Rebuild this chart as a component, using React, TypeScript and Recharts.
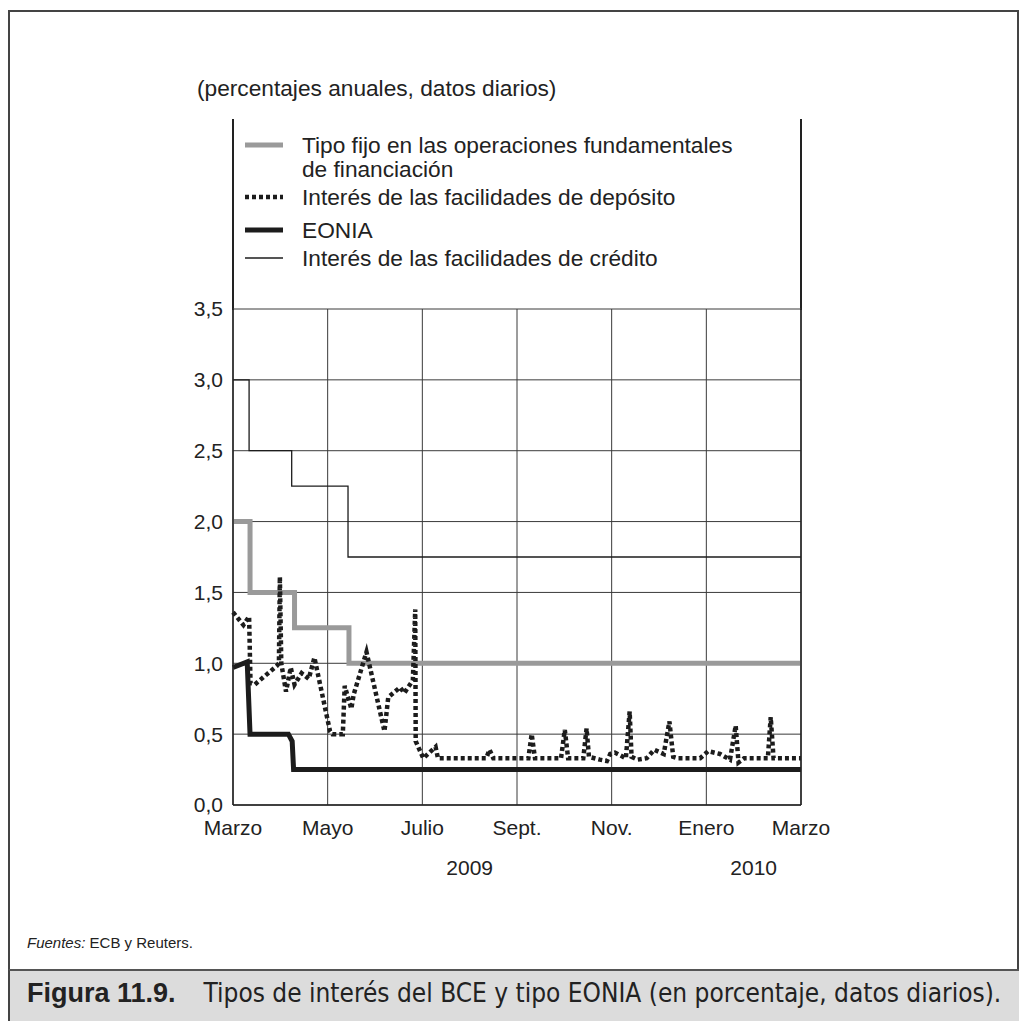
import { CartesianGrid, Line, LineChart, XAxis, YAxis } from "recharts";

// x values are months since 1 March 2009
const MONTH_TICKS = [0, 2, 4, 6, 8, 10, 12];
const MONTH_LABELS = ["Marzo", "Mayo", "Julio", "Sept.", "Nov.", "Enero", "Marzo"];
const YEAR_TICKS = [5, 11];
const YEAR_LABELS = ["2009", "2010"];
const RATE_TICKS = [0, 0.5, 1, 1.5, 2, 2.5, 3, 3.5];

const creditMonths = [0, 0.34, 1.24, 2.43, 12];
const creditRates = [3.0, 2.5, 2.25, 1.75, 1.75];

const refiMonths = [0, 0.36, 1.3, 2.45, 12];
const refiRates = [2.0, 1.5, 1.25, 1.0, 1.0];

const eoniaMonths = [0, 0.3, 0.36, 1.17, 1.25, 1.28, 12];
const eoniaRates = [0.97, 1.01, 0.5, 0.5, 0.45, 0.25, 0.25];

const depositMonths = [
  0, 0.22, 0.34, 0.37, 0.46, 0.92, 0.97, 0.99, 1.02, 1.12, 1.22, 1.3, 1.45, 1.6,
  1.72, 2.05, 2.1, 2.32, 2.36, 2.5, 2.55, 2.82, 3.2, 3.28, 3.53, 3.62, 3.8, 3.85,
  3.86, 4.02, 4.28, 4.33, 5.35, 5.42, 5.5, 6.24, 6.31, 6.38, 6.93, 7.01, 7.08,
  7.4, 7.47, 7.52, 7.75, 7.9, 7.97, 8.07, 8.3, 8.38, 8.42, 8.55, 8.74, 8.9, 9.1,
  9.22, 9.3, 9.4, 9.87, 10.04, 10.29, 10.5, 10.62, 10.68, 10.8, 11.3, 11.36,
  11.42, 12,
];
const depositRates = [
  1.36, 1.27, 1.33, 0.86, 0.85, 0.98, 1.0, 1.61, 1.0, 0.8, 0.97, 0.85, 0.93, 0.89,
  1.04, 0.52, 0.5, 0.5, 0.84, 0.68, 0.78, 1.08, 0.52, 0.76, 0.83, 0.79, 0.88, 1.38,
  0.45, 0.33, 0.41, 0.33, 0.33, 0.39, 0.33, 0.33, 0.5, 0.33, 0.33, 0.53, 0.33,
  0.33, 0.54, 0.34, 0.32, 0.31, 0.36, 0.37, 0.33, 0.66, 0.34, 0.32, 0.33, 0.39, 0.36,
  0.59, 0.34, 0.33, 0.33, 0.38, 0.36, 0.32, 0.56, 0.3, 0.33, 0.33, 0.62,
  0.33, 0.33,
];

const zip = (ms: number[], vs: (number | null)[]) => ms.map((m, i) => ({ m, v: vs[i] }));

const FONT = "'Liberation Sans', Arial, sans-serif";
const NARROW = "'Liberation Sans Narrow', 'DejaVu Sans Condensed', Arial, sans-serif";
const INK = "#1c1c1c";
const GREY = "#9a9a9a";

const fmtRate = (v: number) => v.toFixed(1).replace(".", ",");

const SERIES = {
  refi: { stroke: GREY, strokeWidth: 5 },
  deposit: { stroke: INK, strokeWidth: 4.5, strokeDasharray: "4 3" },
  eonia: { stroke: INK, strokeWidth: 5 },
  credit: { stroke: INK, strokeWidth: 1.3 },
};

const legendRows = [
  { key: "refi", top: 145, lines: ["Tipo fijo en las operaciones fundamentales", "de financiación"] },
  { key: "deposit", top: 197, lines: ["Interés de las facilidades de depósito"] },
  { key: "eonia", top: 230, lines: ["EONIA"] },
  { key: "credit", top: 258, lines: ["Interés de las facilidades de crédito"] },
] as const;

export default function App() {
  const tick = { fill: "#222", fontSize: 21, fontFamily: FONT };
  return (
    <div style={{ position: "absolute", left: 0, top: 0, width: 1019, height: 1021, background: "#fff", overflow: "hidden" }}>
      {/* outer frame */}
      <div style={{ position: "absolute", left: 8, top: 10, width: 1007, height: 1020, borderLeft: "2px solid #444", borderTop: "2px solid #444", borderRight: "2px solid #444" }} />

      <div style={{ position: "absolute", left: 197, top: 76, fontFamily: FONT, fontSize: 22.7, lineHeight: "24px", color: "#222", whiteSpace: "nowrap" }}>
        (percentajes anuales, datos diarios)
      </div>

      {/* side rules continue above the plot through the legend area */}
      <div style={{ position: "absolute", left: 232, top: 119, width: 1.5, height: 191, background: "#222" }} />
      <div style={{ position: "absolute", left: 800, top: 119, width: 1.5, height: 191, background: "#222" }} />

      {legendRows.map((row) => {
        const s = SERIES[row.key];
        return (
          <div key={row.key}>
            <svg style={{ position: "absolute", left: 245, top: row.top - 6 }} width={38} height={12}>
              <line x1={0} x2={38} y1={6} y2={6} stroke={s.stroke} strokeWidth={s.strokeWidth} strokeDasharray={"strokeDasharray" in s ? s.strokeDasharray : undefined} />
            </svg>
            <div style={{ position: "absolute", left: 302, top: row.top - 12, fontFamily: FONT, fontSize: 22.7, lineHeight: "24px", color: "#222", whiteSpace: "nowrap" }}>
              {row.lines.map((l) => (
                <div key={l}>{l}</div>
              ))}
            </div>
          </div>
        );
      })}

      <div style={{ position: "absolute", left: 0, top: 0 }}>
        <LineChart width={1019} height={900} margin={{ top: 309, right: 0, left: 0, bottom: 15 }}>
          <CartesianGrid stroke="#3a3a3a" strokeWidth={1} />
          <XAxis
            type="number"
            dataKey="m"
            domain={[0, 12]}
            ticks={MONTH_TICKS}
            interval={0}
            tickFormatter={(v: number) => MONTH_LABELS[MONTH_TICKS.indexOf(v)]}
            tick={tick}
            tickLine={false}
            tickSize={0}
            tickMargin={15}
            axisLine={{ stroke: "#222", strokeWidth: 1.5 }}
            height={40}
          />
          <XAxis
            xAxisId="year"
            type="number"
            dataKey="m"
            domain={[0, 12]}
            ticks={YEAR_TICKS}
            interval={0}
            tickFormatter={(v: number) => YEAR_LABELS[YEAR_TICKS.indexOf(v)]}
            tick={tick}
            tickLine={false}
            tickSize={0}
            tickMargin={15}
            axisLine={false}
            height={40}
          />
          <YAxis
            type="number"
            domain={[0, 3.5]}
            ticks={RATE_TICKS}
            interval={0}
            tickFormatter={fmtRate}
            tick={tick}
            tickLine={false}
            tickSize={0}
            tickMargin={10}
            axisLine={{ stroke: "#222", strokeWidth: 1.5 }}
            width={233}
          />
          <YAxis
            yAxisId="right"
            orientation="right"
            type="number"
            domain={[0, 3.5]}
            ticks={RATE_TICKS}
            interval={0}
            tickFormatter={fmtRate}
            tick={{ ...tick, textAnchor: "start" }}
            tickLine={false}
            tickSize={0}
            tickMargin={14}
            axisLine={{ stroke: "#222", strokeWidth: 1.5 }}
            width={218}
          />
          {/* empty series so the year axis gets rendered */}
          <Line xAxisId="year" data={zip(YEAR_TICKS, YEAR_TICKS.map(() => null))} dataKey="v" stroke="none" dot={false} isAnimationActive={false} />
          <Line data={zip(creditMonths, creditRates)} dataKey="v" type="stepAfter" dot={false} isAnimationActive={false} {...SERIES.credit} />
          <Line data={zip(refiMonths, refiRates)} dataKey="v" type="stepAfter" dot={false} isAnimationActive={false} {...SERIES.refi} />
          <Line data={zip(eoniaMonths, eoniaRates)} dataKey="v" type="linear" dot={false} isAnimationActive={false} {...SERIES.eonia} />
          <Line data={zip(depositMonths, depositRates)} dataKey="v" type="linear" dot={false} isAnimationActive={false} {...SERIES.deposit} />
        </LineChart>
      </div>

      <div style={{ position: "absolute", left: 27, top: 934, fontFamily: FONT, fontSize: 15, lineHeight: "18px", color: "#222", whiteSpace: "nowrap" }}>
        <i>Fuentes:</i> ECB y Reuters.
      </div>

      {/* caption band */}
      <div style={{ position: "absolute", left: 8, top: 969, width: 1011, height: 52, background: "#dcdcdc", borderTop: "2px solid #555", borderLeft: "2px solid #444" }} />
      <div style={{ position: "absolute", left: 27, top: 978, fontSize: 26, lineHeight: "30px", color: "#222", whiteSpace: "nowrap" }}>
        <span style={{ fontFamily: FONT, fontWeight: 700, fontSize: 27 }}>Figura 11.9.</span>
        <span style={{ fontFamily: NARROW, marginLeft: 28 }}>Tipos de interés del BCE y tipo EONIA (en porcentaje, datos diarios).</span>
      </div>
    </div>
  );
}
